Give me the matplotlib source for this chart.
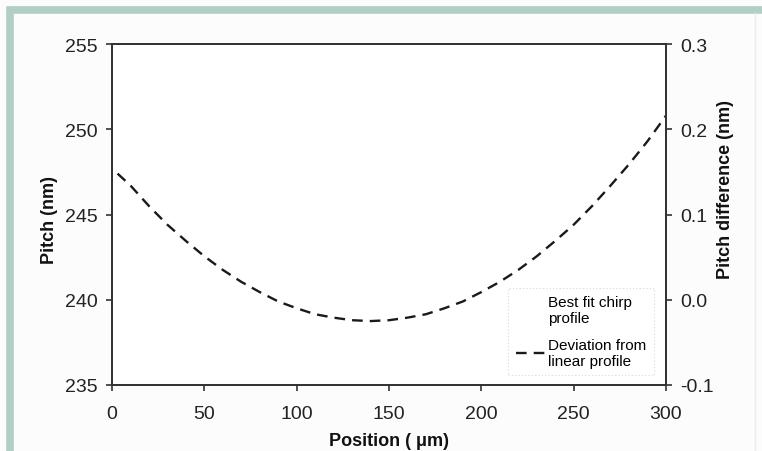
import matplotlib
matplotlib.use('Agg')
import matplotlib.pyplot as plt
from matplotlib.lines import Line2D
from matplotlib.patches import Rectangle

plt.rcParams['font.family'] = ['Liberation Sans', 'DejaVu Sans']

# Deviation of the chirped grating pitch from a linear profile
position_um = [3, 10, 20, 30, 40, 50, 60, 70, 80, 90, 100, 110, 120, 130, 140,
               150, 160, 170, 180, 190, 200, 210, 220, 230, 240, 250, 260, 270,
               280, 290, 300]
pitch_diff_nm = [0.148, 0.134, 0.110, 0.088, 0.069, 0.051, 0.035, 0.021, 0.009,
                 -0.002, -0.010, -0.017, -0.021, -0.024, -0.025, -0.024, -0.021,
                 -0.017, -0.010, -0.002, 0.009, 0.021, 0.035, 0.051, 0.069,
                 0.088, 0.110, 0.134, 0.159, 0.186, 0.216]

x_ticks = [0, 50, 100, 150, 200, 250, 300]
pitch_ticks = [235, 240, 245, 250, 255]
diff_ticks = [-0.1, 0.0, 0.1, 0.2, 0.3]

W, H = 762, 452
fig = plt.figure(figsize=(W / 100, H / 100), dpi=100, facecolor='#fbfcfb')

# teal frame round the panel
frame = Rectangle((10 / W, -0.2), 1.2, 1.2 - 10.5 / H, transform=fig.transFigure,
                  fill=False, edgecolor='#b3cdc7', linewidth=5.5, zorder=0)
fig.patches.append(frame)
fig.add_artist(Line2D([755 / W, 755 / W], [0, 1 - 14 / H], transform=fig.transFigure,
                      color='#e6eeec', linewidth=1.0))

ax = fig.add_axes([112 / W, 1 - 386 / H, (666 - 112) / W, (386 - 45) / H])
ax.set_facecolor('white')
ax.set_xlim(0, 300)
ax.set_ylim(235, 255)
ax.set_xticks(x_ticks)
ax.set_yticks(pitch_ticks)

ax2 = ax.twinx()
ax2.set_ylim(-0.1, 0.3)
ax2.set_yticks(diff_ticks)
ax2.set_yticklabels(['%.1f' % v for v in diff_ticks])

for a in (ax, ax2):
    for s in a.spines.values():
        s.set_linewidth(1.3)
        s.set_color('#333333')
    a.tick_params(direction='out', length=4, width=1.2, color='#333333',
                  labelsize=14, labelcolor='#222222', pad=6.5)
ax.tick_params(axis='x', pad=10.5)
ax2.tick_params(axis='y', pad=6)

line, = ax2.plot(position_um, pitch_diff_nm, color='#1a1a1a', linewidth=1.7,
                 linestyle=(0, (4.5, 3)))

# axis titles placed by pixel position
lab = dict(fontsize=13, fontweight='bold', color='#111111', ha='center', va='center')
fig.text(389 / W, 1 - 442 / H, 'Position ( μm)', **lab)
fig.text(49 / W, 1 - 220 / H, 'Pitch (nm)', rotation=90, **lab)
fig.text(725 / W, 1 - 190 / H, 'Pitch difference (nm)', rotation=90, **lab)

blank = Line2D([], [], color='none')
leg = ax2.legend([blank, line], ['Best fit chirp\nprofile', 'Deviation from\nlinear profile'],
                 loc='lower right', bbox_to_anchor=(0.978, 0.028), borderaxespad=0,
                 fontsize=11, handlelength=1.9, handletextpad=0.2, labelspacing=0.8,
                 fancybox=False, framealpha=1, borderpad=0.5)
leg.get_frame().set_edgecolor('#d8d8d8')
leg.get_frame().set_linewidth(0.8)
leg.get_frame().set_linestyle((0, (1, 2)))

fig.savefig('out.png', dpi=100, facecolor=fig.get_facecolor())
